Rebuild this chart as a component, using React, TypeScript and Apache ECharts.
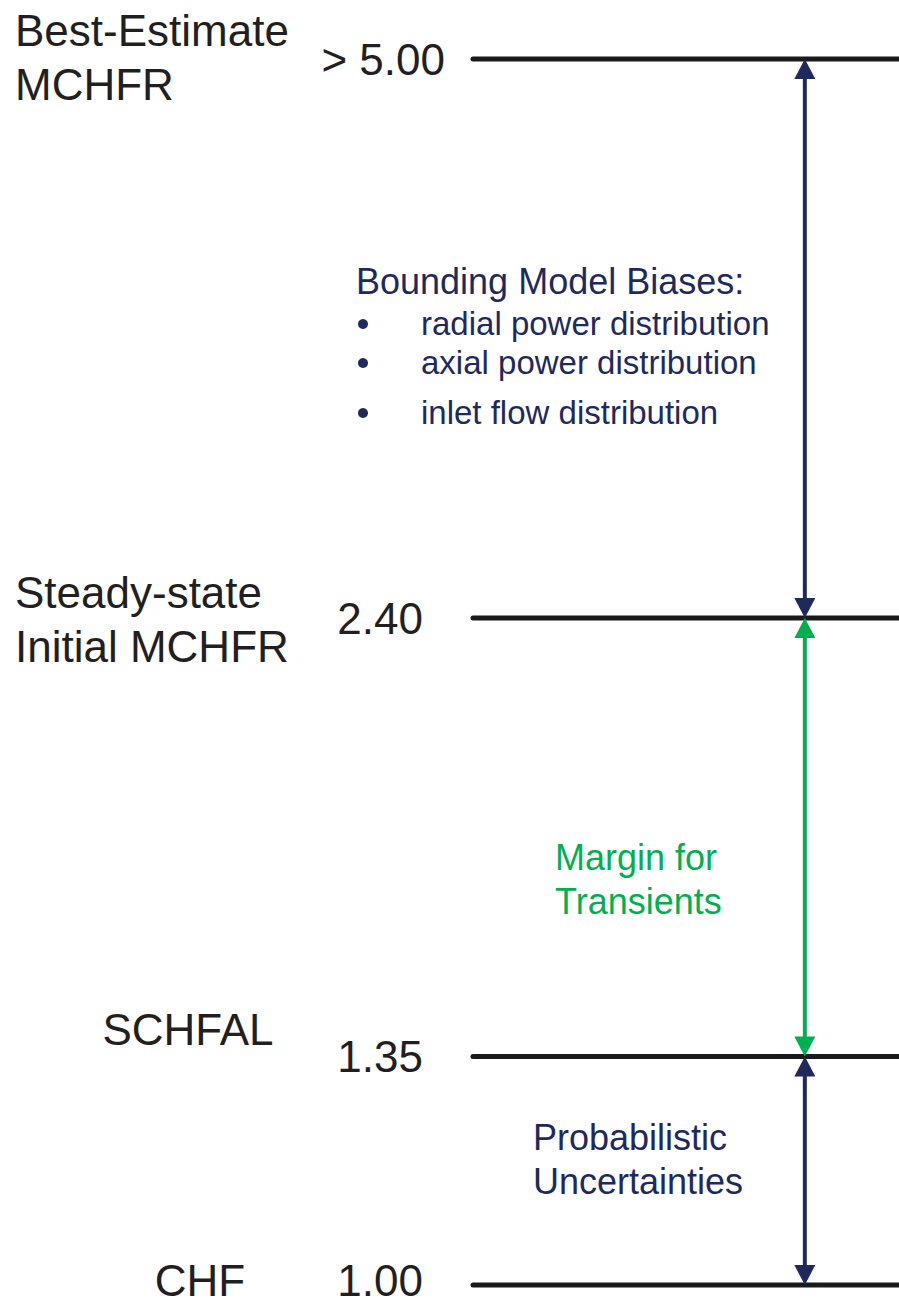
import React, { useEffect, useRef } from "react";
import * as echarts from "echarts";

// ---- data ----
const levelValues = [5.0, 2.4, 1.35, 1.0];
const levelTicks = ["> 5.00", "2.40", "1.35", "1.00"];
const levelNames = ["Best-Estimate\nMCHFR", "Steady-state\nInitial MCHFR", "SCHFAL", "CHF"];
const spanTops = [5.0, 2.4, 1.35];
const spanBottoms = [2.4, 1.35, 1.0];
const spanKinds = ["bias", "transient", "uncertainty"];
const biasTitle = "Bounding Model Biases:";
const biasItems = ["radial power distribution", "axial power distribution", "inlet flow distribution"];
const transientText = ["Margin for", "Transients"];
const uncertaintyText = ["Probabilistic", "Uncertainties"];

// ---- styles / layout ----
const FONT = "Liberation Sans";
const INK = "#231f20";
const NAVY = "#1f2a5c";
const GREEN = "#00b050";
const spanColors: Record<string, string> = { bias: NAVY, transient: GREEN, uncertainty: NAVY };
const tickRight = [445, 423, 423, 423];
const tickDy = [0, 0, 0, -5];
const nameLayout = [
  { x: 15, align: "left", dy: -2, lh: 54 },
  { x: 15, align: "left", dy: 1, lh: 54 },
  { x: 188, align: "center", dy: -27, lh: 40 },
  { x: 200, align: "center", dy: -5, lh: 36 },
];
const ARROW_X = 0.78;

export default function App() {
  const ref = useRef<HTMLDivElement>(null);
  useEffect(() => {
    document.body.style.margin = "0";
    if (!ref.current) return;
    const chart = echarts.init(ref.current, null, { renderer: "svg" });

    const levelSeries = {
      type: "custom",
      data: levelValues.map((v, i) => [0, v, i]),
      renderItem: (params: any, api: any) => {
        const i = api.value(2);
        const y = api.coord([0, api.value(1)])[1];
        const x0 = api.coord([0, 1])[0];
        const x1 = api.coord([1, 1])[0];
        const nl = nameLayout[i];
        return {
          type: "group",
          children: [
            {
              type: "line",
              shape: { x1: x0 + 2, y1: y, x2: x1 + 10, y2: y },
              style: { stroke: "#1a1a1a", lineWidth: 5, lineCap: "round" },
            },
            {
              type: "text",
              x: tickRight[i],
              y: y + tickDy[i],
              style: {
                text: levelTicks[i],
                fill: INK,
                fontSize: 44,
                lineHeight: 36,
                fontFamily: FONT,
                align: "right",
                verticalAlign: "middle",
              },
            },
            {
              type: "text",
              x: nl.x,
              y: y + nl.dy,
              style: {
                text: levelNames[i],
                fill: INK,
                fontSize: 44,
                lineHeight: nl.lh,
                fontFamily: FONT,
                align: nl.align,
                verticalAlign: "middle",
              },
            },
          ],
        };
      },
    };

    const arrowSeries = {
      type: "custom",
      data: spanTops.map((t, i) => [ARROW_X, t, spanBottoms[i], i]),
      renderItem: (params: any, api: any) => {
        const i = api.value(3);
        const color = spanColors[spanKinds[i]];
        const p1 = api.coord([api.value(0), api.value(1)]);
        const p2 = api.coord([api.value(0), api.value(2)]);
        const x = p1[0];
        const hw = 10.5;
        const hh = 20;
        return {
          type: "group",
          children: [
            {
              type: "line",
              shape: { x1: x, y1: p1[1] + hh - 1, x2: x, y2: p2[1] - hh + 1 },
              style: { stroke: color, lineWidth: 4 },
            },
            {
              type: "polygon",
              shape: { points: [[x, p1[1]], [x - hw, p1[1] + hh], [x + hw, p1[1] + hh]] },
              style: { fill: color },
            },
            {
              type: "polygon",
              shape: { points: [[x, p2[1]], [x - hw, p2[1] - hh], [x + hw, p2[1] - hh]] },
              style: { fill: color },
            },
          ],
        };
      },
    };

    const graphic: any[] = [
      {
        type: "text",
        x: 356,
        y: 281,
        style: { text: biasTitle, fill: NAVY, fontFamily: FONT, fontSize: 36, verticalAlign: "middle" },
      },
      ...biasItems.map((t, k) => ({
        type: "text",
        x: 421,
        y: [323, 362, 412][k],
        style: { text: t, fill: NAVY, fontFamily: FONT, fontSize: 33, verticalAlign: "middle" },
      })),
      ...biasItems.map((t, k) => ({
        type: "circle",
        shape: { cx: 363, cy: [324, 363, 413][k], r: 5 },
        style: { fill: NAVY },
      })),
      {
        type: "text",
        x: 555,
        y: 879,
        style: {
          text: transientText.join("\n"),
          fill: GREEN,
          fontFamily: FONT,
          fontSize: 36,
          lineHeight: 44,
          verticalAlign: "middle",
        },
      },
      {
        type: "text",
        x: 533,
        y: 1159,
        style: {
          text: uncertaintyText.join("\n"),
          fill: NAVY,
          fontFamily: FONT,
          fontSize: 36,
          lineHeight: 44,
          verticalAlign: "middle",
        },
      },
    ];

    chart.setOption({
      animation: false,
      grid: { left: 471, right: 0, top: 59, bottom: 20 },
      xAxis: { type: "value", min: 0, max: 1, show: false },
      yAxis: { type: "log", logBase: 10, min: 1, max: 5, show: false },
      series: [levelSeries, arrowSeries],
      graphic,
    });
    return () => chart.dispose();
  }, []);
  return <div ref={ref} style={{ width: 899, height: 1305 }} />;
}
